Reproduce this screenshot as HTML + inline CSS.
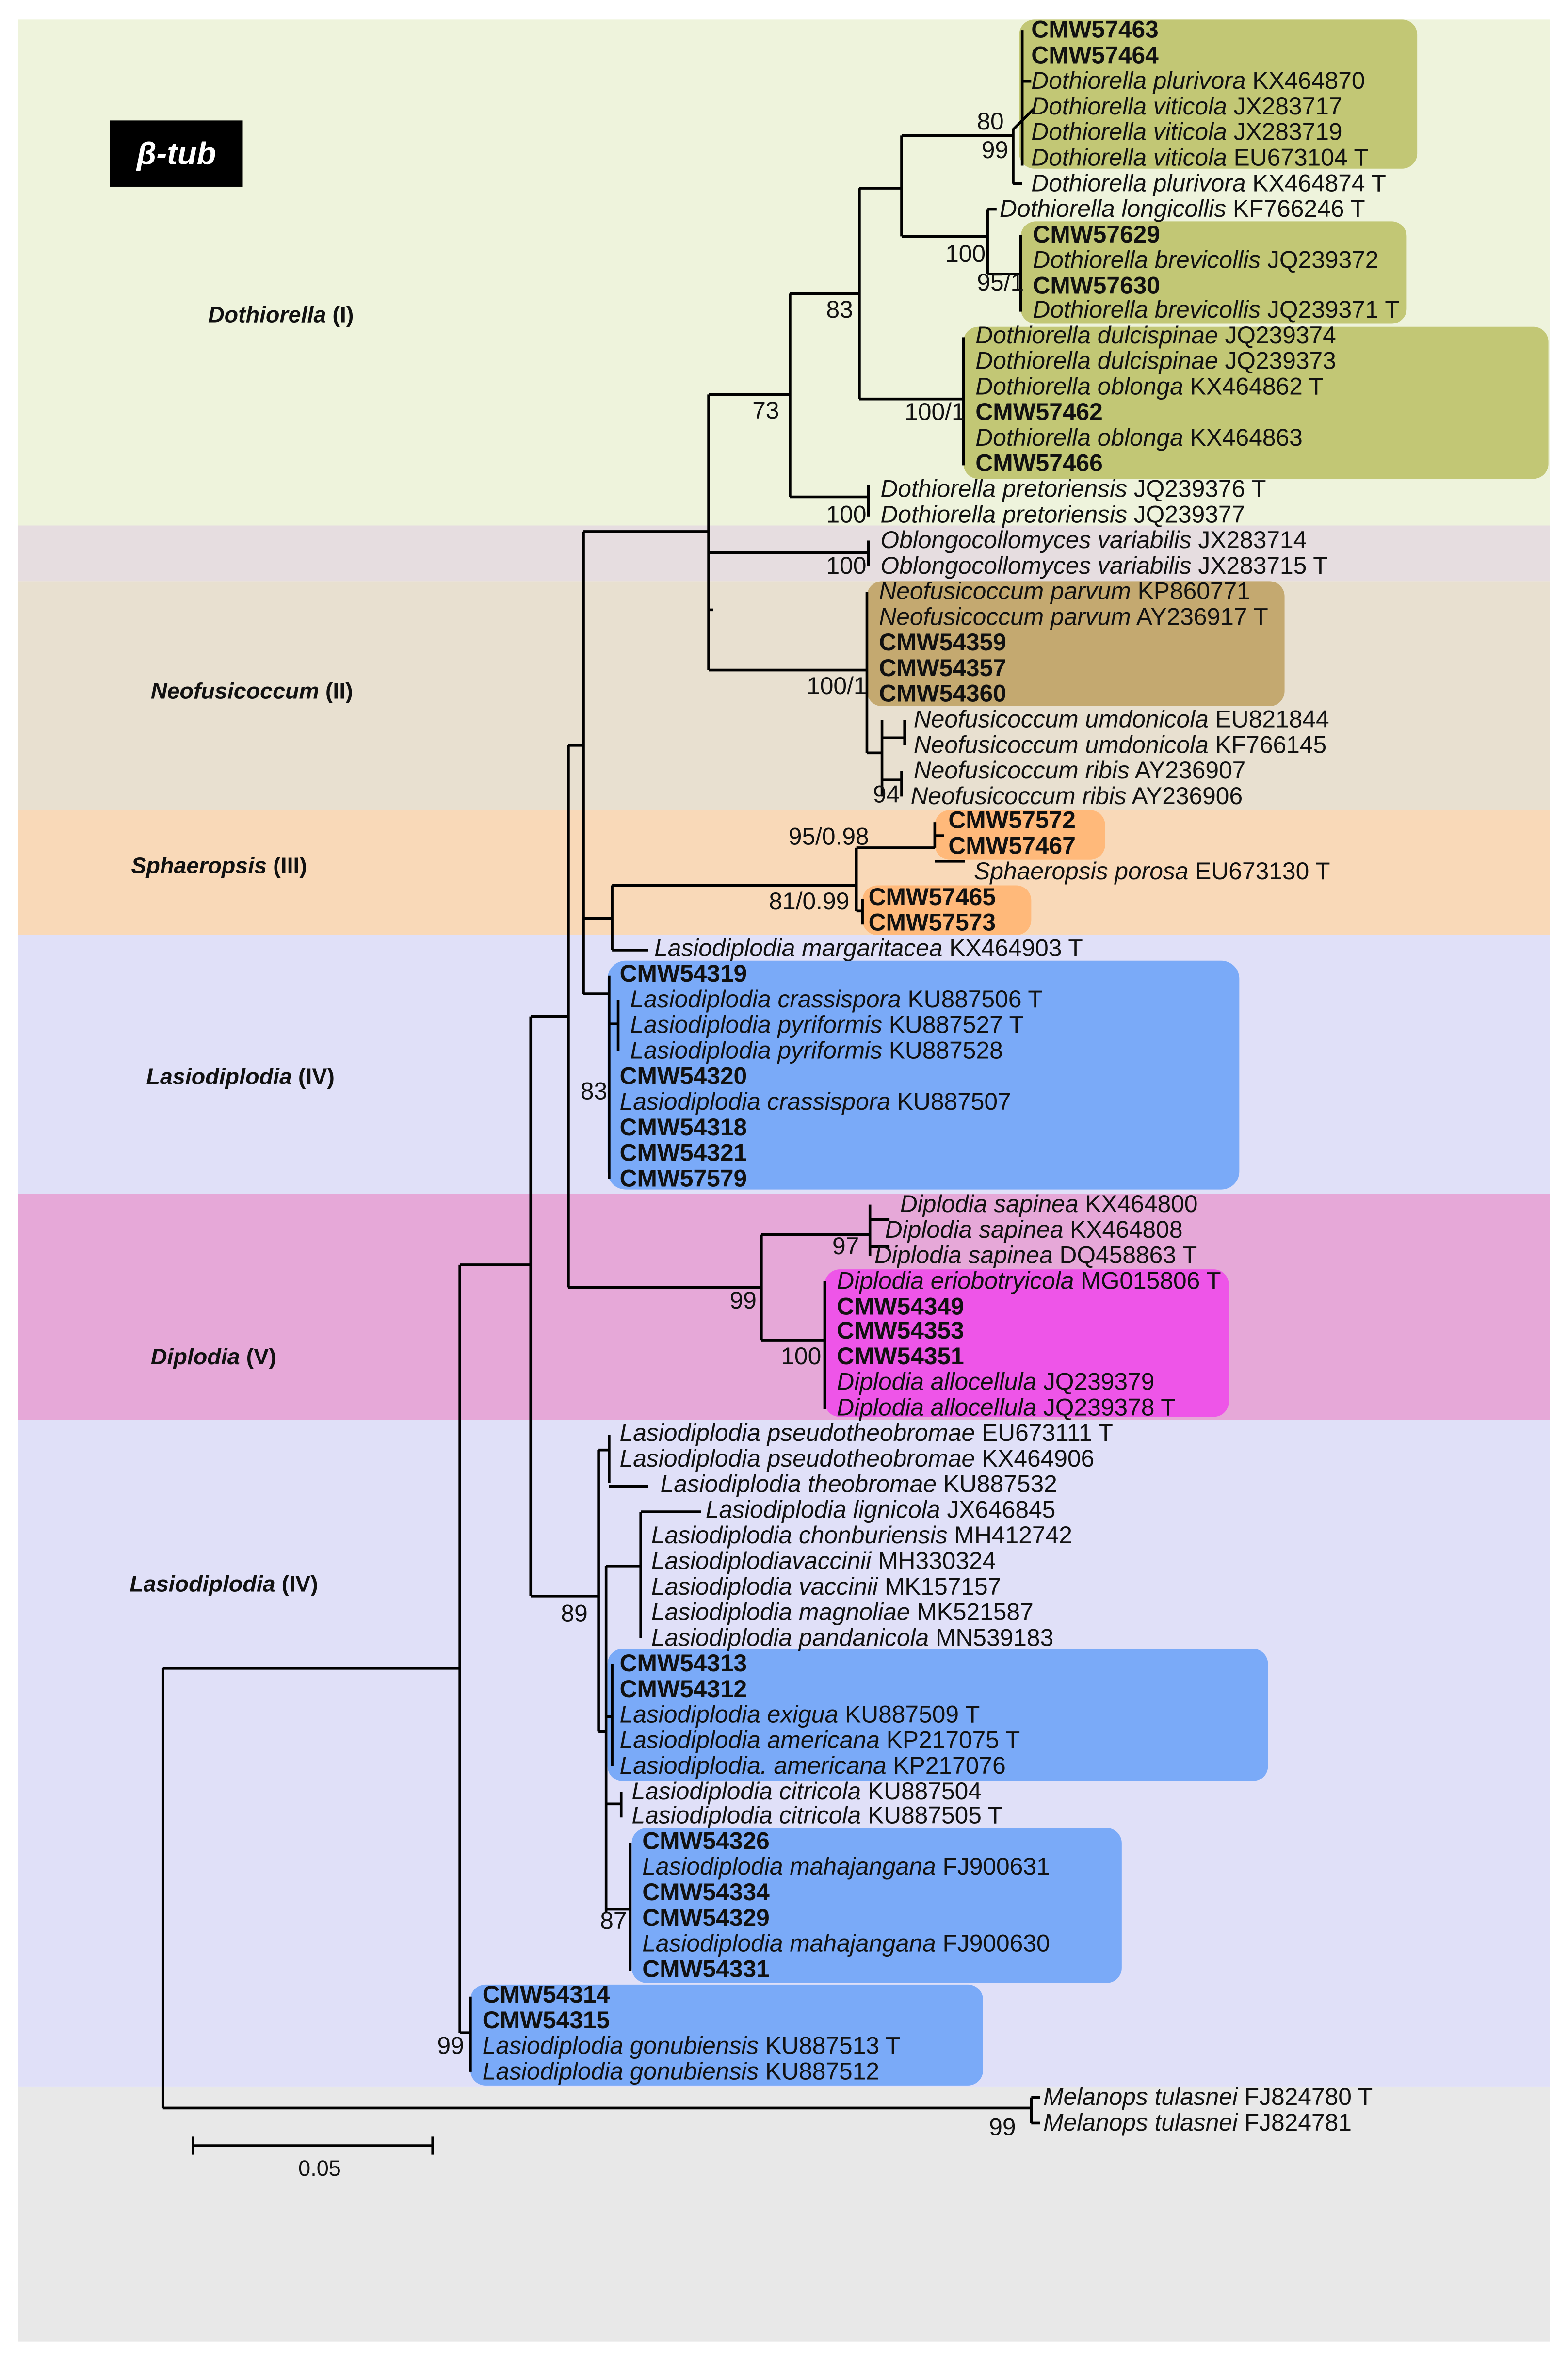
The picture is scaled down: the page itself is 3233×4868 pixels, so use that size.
<!DOCTYPE html>
<html><head><meta charset="utf-8"><style>
html,body{margin:0;padding:0;background:#fff}
svg{display:block}
text{font-family:"Liberation Sans",sans-serif;font-size:16px;fill:#111}
.b{font-weight:bold}
.i{font-style:italic}
.cl{font-weight:bold;font-size:15px}
.s{font-size:14.5px}
</style></head><body>
<svg width="3233" height="4868" viewBox="0 0 1040 1568" preserveAspectRatio="none" xmlns="http://www.w3.org/2000/svg">
<rect x="12" y="13" width="1016" height="336" fill="#eef3dc"/>
<rect x="12" y="349" width="1016" height="37" fill="#e6dde0"/>
<rect x="12" y="386" width="1016" height="152" fill="#e8e0d0"/>
<rect x="12" y="538" width="1016" height="83" fill="#f9d9b8"/>
<rect x="12" y="621" width="1016" height="172" fill="#e0e0f8"/>
<rect x="12" y="793" width="1016" height="150" fill="#e6a8d8"/>
<rect x="12" y="943" width="1016" height="443" fill="#e0e0f8"/>
<rect x="12" y="1386" width="1016" height="169" fill="#e8e8e8"/>
<g>
<rect x="676" y="13" width="264" height="99" rx="10" fill="#c2c775"/>
<rect x="677" y="147" width="256" height="68" rx="10" fill="#c2c775"/>
<rect x="639" y="217" width="388" height="101" rx="10" fill="#c2c775"/>
<rect x="575" y="386" width="277" height="83" rx="10" fill="#c4a970"/>
<rect x="620" y="538" width="113" height="33" rx="10" fill="#ffb97a"/>
<rect x="572" y="588" width="112" height="33" rx="10" fill="#ffb97a"/>
<rect x="403" y="638" width="419" height="152" rx="12" fill="#7aaaf8"/>
<rect x="547" y="843" width="268" height="98" rx="10" fill="#ee55e8"/>
<rect x="403" y="1095" width="438" height="88" rx="10" fill="#7aaaf8"/>
<rect x="419" y="1214" width="325" height="103" rx="10" fill="#7aaaf8"/>
<rect x="312" y="1318" width="340" height="67" rx="10" fill="#7aaaf8"/>
</g>
<rect x="73" y="80" width="88" height="44" fill="#000"/>
<text x="117" y="109" text-anchor="middle" style="fill:#fff;font-weight:bold;font-style:italic;font-size:21px">β-tub</text>
<text x="138" y="214" class="cl"><tspan class="i">Dothiorella</tspan> (I)</text>
<text x="100" y="464" class="cl"><tspan class="i">Neofusicoccum</tspan> (II)</text>
<text x="87" y="580" class="cl"><tspan class="i">Sphaeropsis</tspan> (III)</text>
<text x="97" y="720" class="cl"><tspan class="i">Lasiodiplodia</tspan> (IV)</text>
<text x="100" y="906" class="cl"><tspan class="i">Diplodia</tspan> (V)</text>
<text x="86" y="1057" class="cl"><tspan class="i">Lasiodiplodia</tspan> (IV)</text>
<g fill="none" stroke="#000" stroke-width="1.8">
<path d="M108 1108V1400M108 1108H305M108 1400H684M684 1393V1410M684 1393H690M684 1410H690"/>
<path d="M305 840V1350M305 840H352M305 1350H312M312 1326V1376"/>
<path d="M352 675V1060M352 675H377M352 1060H397"/>
<path d="M377 495V855M377 495H387M377 855H505"/>
<path d="M387 353V660M387 353H470M387 610H406M387 660H404"/>
<path d="M470 262V445M470 262H524M470 367H576M576 359V376M470 405H473M470 445H575"/>
<path d="M524 195V330M524 195H570M524 330H576M576 322V343"/>
<path d="M570 125V265M570 125H598M570 265H639M639 224V309"/>
<path d="M598 90V157M598 90H672M598 157H655"/>
<path d="M672 86V122M672 122H678M678 20V110M672 86L686 72M678 54H684"/>
<path d="M655 139V182M655 139H661M655 182H677M677 156V207"/>
<path d="M575 393V500M575 500H585M585 478V529M585 490H600M600 478V495M585 518H598M598 512V529"/>
<path d="M406 588V631M406 588H568M406 631H430M568 563V605M568 563H620M620 546V563M620 555H626M620 572H640M568 605H572M572 597V614"/>
<path d="M404 648V783M404 680H410M410 664V698"/>
<path d="M505 820V890M505 820H577M577 800V834M577 810H590M577 828H590M505 890H547M547 851V936"/>
<path d="M397 963V1150M397 963H404M404 953V985M404 987H430M397 1150H402M402 1040V1270M402 1040H425M425 1004V1088M425 1004H465M402 1140H406M406 1105V1173M402 1198H412M412 1190V1207M402 1268H418M418 1224V1309"/>
<path d="M128 1425H287M128 1419V1431M287 1419V1431"/>
</g>
<text x="212" y="1445" text-anchor="middle" class="s">0.05</text>
<g class="s">
<text x="648" y="86">80</text><text x="651" y="105">99</text>
<text x="627" y="174">100</text><text x="648" y="193">95/1</text>
<text x="548" y="211">83</text><text x="499" y="278">73</text>
<text x="600" y="279">100/1</text><text x="548" y="347">100</text>
<text x="548" y="381">100</text><text x="535" y="461">100/1</text>
<text x="579" y="533">94</text><text x="523" y="561">95/0.98</text>
<text x="510" y="604">81/0.99</text><text x="385" y="730">83</text>
<text x="552" y="833">97</text><text x="484" y="869">99</text>
<text x="518" y="906">100</text><text x="372" y="1077">89</text>
<text x="398" y="1281">87</text><text x="290" y="1364">99</text>
<text x="656" y="1418">99</text>
</g>
<g>
<text x="684" y="25" class="b">CMW57463</text>
<text x="684" y="42" class="b">CMW57464</text>
<text x="684" y="59"><tspan class="i">Dothiorella plurivora</tspan> KX464870</text>
<text x="684" y="76"><tspan class="i">Dothiorella viticola</tspan> JX283717</text>
<text x="684" y="93"><tspan class="i">Dothiorella viticola</tspan> JX283719</text>
<text x="684" y="110"><tspan class="i">Dothiorella viticola</tspan> EU673104 T</text>
<text x="684" y="127"><tspan class="i">Dothiorella plurivora</tspan> KX464874 T</text>
<text x="663" y="144"><tspan class="i">Dothiorella longicollis</tspan> KF766246 T</text>
<text x="685" y="161" class="b">CMW57629</text>
<text x="685" y="178"><tspan class="i">Dothiorella brevicollis</tspan> JQ239372</text>
<text x="685" y="195" class="b">CMW57630</text>
<text x="685" y="211"><tspan class="i">Dothiorella brevicollis</tspan> JQ239371 T</text>
<text x="647" y="228"><tspan class="i">Dothiorella dulcispinae</tspan> JQ239374</text>
<text x="647" y="245"><tspan class="i">Dothiorella dulcispinae</tspan> JQ239373</text>
<text x="647" y="262"><tspan class="i">Dothiorella oblonga</tspan> KX464862 T</text>
<text x="647" y="279" class="b">CMW57462</text>
<text x="647" y="296"><tspan class="i">Dothiorella oblonga</tspan> KX464863</text>
<text x="647" y="313" class="b">CMW57466</text>
<text x="584" y="330"><tspan class="i">Dothiorella pretoriensis</tspan> JQ239376 T</text>
<text x="584" y="347"><tspan class="i">Dothiorella pretoriensis</tspan> JQ239377</text>
<text x="584" y="364"><tspan class="i">Oblongocollomyces variabilis</tspan> JX283714</text>
<text x="584" y="381"><tspan class="i">Oblongocollomyces variabilis</tspan> JX283715 T</text>
<text x="583" y="398"><tspan class="i">Neofusicoccum parvum</tspan> KP860771</text>
<text x="583" y="415"><tspan class="i">Neofusicoccum parvum</tspan> AY236917 T</text>
<text x="583" y="432" class="b">CMW54359</text>
<text x="583" y="449" class="b">CMW54357</text>
<text x="583" y="466" class="b">CMW54360</text>
<text x="606" y="483"><tspan class="i">Neofusicoccum umdonicola</tspan> EU821844</text>
<text x="606" y="500"><tspan class="i">Neofusicoccum umdonicola</tspan> KF766145</text>
<text x="606" y="517"><tspan class="i">Neofusicoccum ribis</tspan> AY236907</text>
<text x="604" y="534"><tspan class="i">Neofusicoccum ribis</tspan> AY236906</text>
<text x="629" y="550" class="b">CMW57572</text>
<text x="629" y="567" class="b">CMW57467</text>
<text x="646" y="584"><tspan class="i">Sphaeropsis porosa</tspan> EU673130 T</text>
<text x="576" y="601" class="b">CMW57465</text>
<text x="576" y="618" class="b">CMW57573</text>
<text x="434" y="635"><tspan class="i">Lasiodiplodia margaritacea</tspan> KX464903 T</text>
<text x="411" y="652" class="b">CMW54319</text>
<text x="418" y="669"><tspan class="i">Lasiodiplodia crassispora</tspan> KU887506 T</text>
<text x="418" y="686"><tspan class="i">Lasiodiplodia pyriformis</tspan> KU887527 T</text>
<text x="418" y="703"><tspan class="i">Lasiodiplodia pyriformis</tspan> KU887528</text>
<text x="411" y="720" class="b">CMW54320</text>
<text x="411" y="737"><tspan class="i">Lasiodiplodia crassispora</tspan> KU887507</text>
<text x="411" y="754" class="b">CMW54318</text>
<text x="411" y="771" class="b">CMW54321</text>
<text x="411" y="788" class="b">CMW57579</text>
<text x="597" y="805"><tspan class="i">Diplodia sapinea</tspan> KX464800</text>
<text x="587" y="822"><tspan class="i">Diplodia sapinea</tspan> KX464808</text>
<text x="580" y="839"><tspan class="i">Diplodia sapinea</tspan> DQ458863 T</text>
<text x="555" y="856"><tspan class="i">Diplodia eriobotryicola</tspan> MG015806 T</text>
<text x="555" y="873" class="b">CMW54349</text>
<text x="555" y="889" class="b">CMW54353</text>
<text x="555" y="906" class="b">CMW54351</text>
<text x="555" y="923"><tspan class="i">Diplodia allocellula</tspan> JQ239379</text>
<text x="555" y="940"><tspan class="i">Diplodia allocellula</tspan> JQ239378 T</text>
<text x="411" y="957"><tspan class="i">Lasiodiplodia pseudotheobromae</tspan> EU673111 T</text>
<text x="411" y="974"><tspan class="i">Lasiodiplodia pseudotheobromae</tspan> KX464906</text>
<text x="438" y="991"><tspan class="i">Lasiodiplodia theobromae</tspan> KU887532</text>
<text x="468" y="1008"><tspan class="i">Lasiodiplodia lignicola</tspan> JX646845</text>
<text x="432" y="1025"><tspan class="i">Lasiodiplodia chonburiensis</tspan> MH412742</text>
<text x="432" y="1042"><tspan class="i">Lasiodiplodiavaccinii</tspan> MH330324</text>
<text x="432" y="1059"><tspan class="i">Lasiodiplodia vaccinii</tspan> MK157157</text>
<text x="432" y="1076"><tspan class="i">Lasiodiplodia magnoliae</tspan> MK521587</text>
<text x="432" y="1093"><tspan class="i">Lasiodiplodia pandanicola</tspan> MN539183</text>
<text x="411" y="1110" class="b">CMW54313</text>
<text x="411" y="1127" class="b">CMW54312</text>
<text x="411" y="1144"><tspan class="i">Lasiodiplodia exigua</tspan> KU887509 T</text>
<text x="411" y="1161"><tspan class="i">Lasiodiplodia americana</tspan> KP217075 T</text>
<text x="411" y="1178"><tspan class="i">Lasiodiplodia. americana</tspan> KP217076</text>
<text x="419" y="1195"><tspan class="i">Lasiodiplodia citricola</tspan> KU887504</text>
<text x="419" y="1211"><tspan class="i">Lasiodiplodia citricola</tspan> KU887505 T</text>
<text x="426" y="1228" class="b">CMW54326</text>
<text x="426" y="1245"><tspan class="i">Lasiodiplodia mahajangana</tspan> FJ900631</text>
<text x="426" y="1262" class="b">CMW54334</text>
<text x="426" y="1279" class="b">CMW54329</text>
<text x="426" y="1296"><tspan class="i">Lasiodiplodia mahajangana</tspan> FJ900630</text>
<text x="426" y="1313" class="b">CMW54331</text>
<text x="320" y="1330" class="b">CMW54314</text>
<text x="320" y="1347" class="b">CMW54315</text>
<text x="320" y="1364"><tspan class="i">Lasiodiplodia gonubiensis</tspan> KU887513 T</text>
<text x="320" y="1381"><tspan class="i">Lasiodiplodia gonubiensis</tspan> KU887512</text>
<text x="692" y="1398"><tspan class="i">Melanops tulasnei</tspan> FJ824780 T</text>
<text x="692" y="1415"><tspan class="i">Melanops tulasnei</tspan> FJ824781</text>
</g>
</svg>
</body></html>
